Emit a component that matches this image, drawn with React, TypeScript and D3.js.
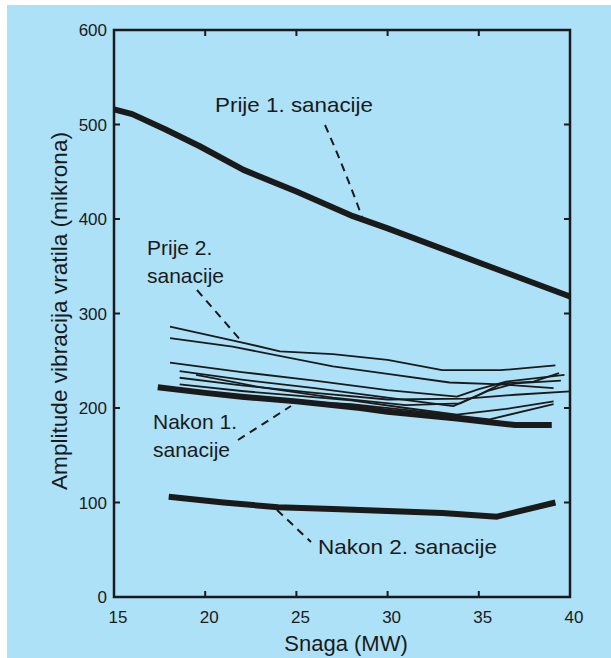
import React from "react";
import * as d3 from "d3";

type Pt = [number, number];

const xTicks = [15, 20, 25, 30, 35, 40];
const yTicks = [0, 100, 200, 300, 400, 500, 600];

const prije1: Pt[] = [[15, 516], [16, 511], [17.8, 495], [19.7, 477], [22.1, 452], [25, 429], [28.1, 403], [30, 390], [35, 354], [40, 318]];
const nakon2: Pt[] = [[18, 106], [21, 100], [24, 95], [27, 93], [30, 91], [33, 89], [36, 85], [39.2, 100]];
const nakon1: Pt[] = [[17.4, 222], [20, 216], [22, 212], [25, 207], [28.5, 200], [30, 196], [33.8, 189], [35.6, 185], [37, 182], [39, 182]];

const thin1: Pt[] = [[18.07, 286], [22.1, 269], [24.1, 260], [27, 257], [30, 251], [33, 240], [36.2, 240], [39.2, 245]];
const thin2: Pt[] = [[18.07, 274], [21.5, 265], [27, 244], [30, 236], [33.4, 227], [36.2, 225], [39.1, 221]];
const thin3: Pt[] = [[18.07, 248], [22, 238], [26, 229], [30, 219], [33.8, 212], [35, 220], [36.5, 228], [39.7, 235]];
const thin4: Pt[] = [[18.6, 239], [22, 230], [26, 221], [30, 211], [33.6, 202], [35, 214], [36.3, 226], [38, 228], [39.4, 237]];
const thin5: Pt[] = [[18.6, 232], [22, 224], [26, 216], [30, 209], [34.3, 210], [37, 214], [40, 217.5]];
const thin6: Pt[] = [[18.6, 225], [22, 218], [25, 213], [28, 208], [31, 200], [33.8, 193], [36.5, 199], [39.1, 207]];
const thin7: Pt[] = [[19.5, 235], [23, 222], [27, 211], [31, 203], [34, 205], [35.5, 218], [37, 226], [39.5, 229]];
const thin8: Pt[] = [[21, 213], [24, 208], [28, 204], [32, 196], [35.6, 188], [39.1, 204]];
const thinLines = [thin1, thin2, thin3, thin4, thin5, thin6, thin7, thin8];

const FONT = "'Liberation Sans', Arial, Helvetica, sans-serif";
const INK = "#1a1a1a";

export default function App() {
  const W = 611, H = 658;
  const left = 114, right = 570, top = 30, bottom = 597;
  const x = d3.scaleLinear().domain([15, 40]).range([left, right]);
  const y = d3.scaleLinear().domain([0, 600]).range([bottom, top]);
  const line = d3.line<Pt>().x(d => x(d[0])).y(d => y(d[1]));
  const tickLen = 6;

  return (
    <svg width={W} height={H} style={{ position: "absolute", left: 0, top: 0 }} fontFamily={FONT}>
      <rect x={0} y={0} width={W} height={H} fill="#ffffff" />
      <rect x={7} y={5} width={W - 7} height={H - 5} fill="#ade1f8" />
      {/* frame */}
      <rect x={left} y={top} width={right - left} height={bottom - top} fill="none" stroke={INK} strokeWidth={2.5} />
      {/* ticks */}
      {xTicks.slice(1, -1).map(t => (
        <g key={"xt" + t}>
          <line x1={x(t)} x2={x(t)} y1={bottom} y2={bottom - tickLen} stroke={INK} strokeWidth={2} />
          <line x1={x(t)} x2={x(t)} y1={top} y2={top + tickLen} stroke={INK} strokeWidth={2} />
        </g>
      ))}
      {yTicks.slice(1, -1).map(t => (
        <g key={"yt" + t}>
          <line x1={left} x2={left + tickLen} y1={y(t)} y2={y(t)} stroke={INK} strokeWidth={2} />
          <line x1={right} x2={right - tickLen} y1={y(t)} y2={y(t)} stroke={INK} strokeWidth={2} />
        </g>
      ))}
      {xTicks.map(t => (
        <text key={"xl" + t} x={x(t) + 4} y={623} textAnchor="middle" fontSize={17} fill={INK}>{t}</text>
      ))}
      {yTicks.map(t => (
        <text key={"yl" + t} x={107} y={y(t) + 6} textAnchor="end" fontSize={17} fill={INK}>{t}</text>
      ))}
      {/* axis titles */}
      <text x={346} y={651} textAnchor="middle" fontSize={22} fill={INK}>Snaga (MW)</text>
      <text transform={`translate(67,311) rotate(-90)`} textAnchor="middle" fontSize={22} fill={INK}
        textLength={358} lengthAdjust="spacingAndGlyphs">Amplitude vibracija vratila (mikrona)</text>

      {/* thin lines */}
      {thinLines.map((d, i) => (
        <path key={"t" + i} d={line(d) || ""} fill="none" stroke={INK} strokeWidth={1.8} strokeLinejoin="round" />
      ))}
      {/* thick lines */}
      {[prije1, nakon1, nakon2].map((d, i) => (
        <path key={"k" + i} d={line(d) || ""} fill="none" stroke={INK} strokeWidth={6} strokeLinejoin="round" />
      ))}

      {/* leaders */}
      <path d="M325,125 Q345,170 362,217" fill="none" stroke={INK} strokeWidth={2} strokeDasharray="8,6" />
      <path d="M197,290 L243,343" fill="none" stroke={INK} strokeWidth={2} strokeDasharray="8,6" />
      <path d="M238,440 L291,406" fill="none" stroke={INK} strokeWidth={2} strokeDasharray="8,6" />
      <path d="M277,510 L311,542" fill="none" stroke={INK} strokeWidth={2} strokeDasharray="8,6" />

      {/* labels */}
      <text x={215} y={112} fontSize={21} fill={INK} textLength={158} lengthAdjust="spacingAndGlyphs">Prije 1. sanacije</text>
      <text x={147} y={255} fontSize={21} fill={INK}>Prije 2.</text>
      <text x={147} y={283} fontSize={21} fill={INK}>sanacije</text>
      <text x={153} y={429} fontSize={21} fill={INK}>Nakon 1.</text>
      <text x={153} y={457} fontSize={21} fill={INK}>sanacije</text>
      <text x={318} y={554} fontSize={21} fill={INK} textLength={179} lengthAdjust="spacingAndGlyphs">Nakon 2. sanacije</text>
    </svg>
  );
}
